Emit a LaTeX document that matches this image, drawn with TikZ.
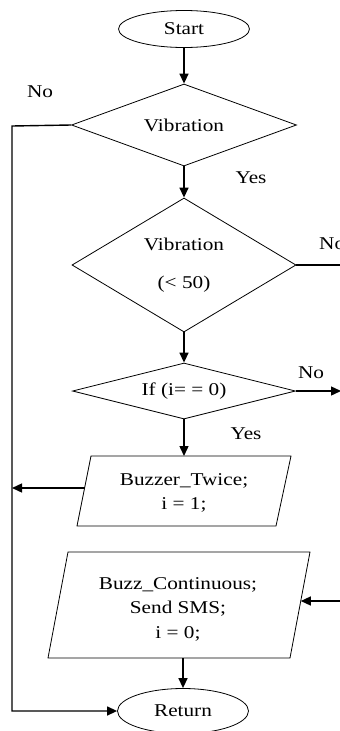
\documentclass[tikz,border=0pt]{standalone}
\usepackage{fontspec}
\setmainfont{Liberation Serif}[FakeStretch=1.18]
\usetikzlibrary{shapes.geometric,arrows.meta}
\begin{document}
\begin{tikzpicture}[x=1pt,y=-1pt,
  every node/.style={font=\fontsize{18}{24.5}\selectfont},
  term/.style={ellipse,draw,line width=0.8pt,inner sep=0pt,minimum width=131pt,minimum height=37pt},
  dec/.style={diamond,draw,line width=0.8pt,inner sep=0pt,align=center},
  txt/.style={align=center,inner sep=0pt},
  shapeline/.style={line width=0.8pt},
  conn/.style={line width=1.4pt},
  arr/.style={conn,-{Triangle[length=10pt,width=9pt]}}]
\useasboundingbox (0,0) rectangle (340,731);
% nodes
\node[term] (start) at (184,29) {Start};
\node[dec,aspect=2.7,minimum width=225pt,minimum height=82pt] (d1) at (184,125) {Vibration};
\node[dec,aspect=1.67,minimum width=224pt,minimum height=134pt] (d2) at (184,265) {Vibration\\[14pt](< 50)};
\node[dec,aspect=4,minimum width=223pt,minimum height=56pt] (d3) at (184,391) {If (i= = 0)};
% parallelogram 1
\coordinate (p1a) at (91,456); \coordinate (p1b) at (291,456);
\coordinate (p1c) at (276,526); \coordinate (p1d) at (77,526);
\draw[shapeline] (p1a) -- (p1b) -- (p1c) -- (p1d) -- cycle;
\node[txt] (p1) at (184,493) {Buzzer\_Twice;\\ i = 1;};
\coordinate (p1top) at (184,456);
\coordinate (p1left) at (84.6,488);
% parallelogram 2
\coordinate (p2a) at (68,552); \coordinate (p2b) at (310,552);
\coordinate (p2c) at (290,658); \coordinate (p2d) at (48,658);
\draw[shapeline] (p2a) -- (p2b) -- (p2c) -- (p2d) -- cycle;
\node[txt] (p2) at (178,609) {Buzz\_Continuous;\\ Send SMS;\\ i = 0;};
\coordinate (p2right) at (300.8,601);
\coordinate (p2bot) at (183,658);
\node[term,minimum height=45pt] (ret) at (183,711) {Return};
% free ends
\coordinate (lefttop) at (12,126);
\coordinate (leftbot) at (12,711);
\coordinate (leftmid) at (12,488);
\coordinate (r2) at (345,265);
\coordinate (r3) at (341,391);
\coordinate (r4) at (345,601);
% connectors
\draw[arr] (start) -- (d1);
\draw[arr] (d1) -- (d2);
\draw[arr] (d2) -- (d3);
\draw[arr] (d3) -- (p1top);
\draw[arr] (p2bot) -- (ret);
\draw[arr] (d1.west) -- (lefttop) -- (leftbot) -- (ret.west);
\draw[arr] (p1left) -- (leftmid);
\draw[conn] (d2.east) -- (r2);
\draw[arr] (d3.east) -- (r3);
\draw[arr] (r4) -- (p2right);
% labels
\node[txt] (lno1) at (40,92) {No};
\node[txt] (lyes1) at (251,178) {Yes};
\node[txt,anchor=west] (lno2) at (319,244) {No};
\node[txt] (lno3) at (311,373) {No};
\node[txt] (lyes3) at (246,434) {Yes};
\end{tikzpicture}
\end{document}
